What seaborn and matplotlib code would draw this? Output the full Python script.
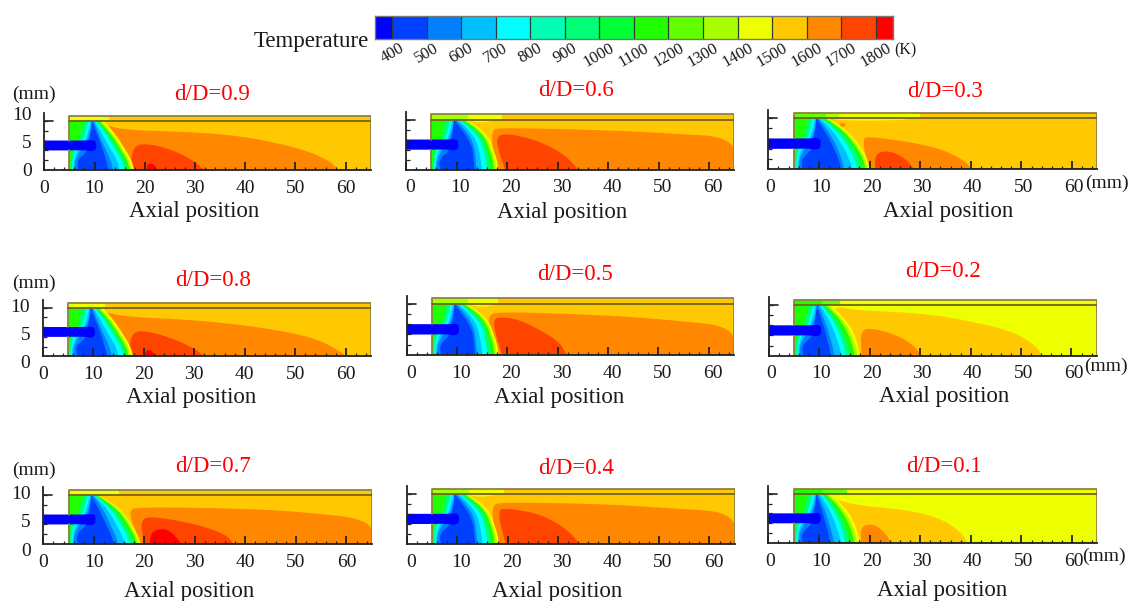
import numpy as np
import seaborn as sns
import matplotlib
matplotlib.use('Agg')
import matplotlib.pyplot as plt
from matplotlib.colors import ListedColormap
from matplotlib.transforms import ScaledTranslation

# Colour bands of the temperature scale (350-1850 K)
band_colors = ['#0000ff', '#0040ff', '#0080ff', '#00c0ff', '#00ffff', '#00ffb4', '#00ff74', '#00ff34',
               '#20ff00', '#62ff00', '#a8ff00', '#eeff00', '#ffc800', '#ff8800', '#ff4400', '#ff0000']
scale_cells = [0, 1, 1, 2, 2, 3, 3, 4, 4, 5, 5, 6, 6, 7, 7, 8, 8, 9, 9, 10, 10, 11, 11, 12, 12, 13, 13, 14, 14, 15]
scale_labels = ['400', '500', '600', '700', '800', '900', '1000', '1100', '1200', '1300', '1400', '1500', '1600',
                '1700', '1800']

x_ticks = [0, 10, 20, 30, 40, 50, 60]
y_labels = ['0', '5', '10']

# Isotherm heights (mm) shared by the cold front tables
front_y = [0, 1.7, 3.5, 5.2, 6.9, 8.6]
front_bands = [11, 10, 8, 6, 4, 3, 2, 1]
front_left = [
    [5, 5, 5, 5, 5, 5],
    [5, 5, 5, 5, 5, 5],
    [5, 5, 5, 5, 5, 5],
    [5.3, 5.3, 5.6, 7, 7.3, 8],
    [5.5, 5.6, 6, 7.8, 8.2, 8.8],
    [5.8, 5.9, 6.6, 8.2, 8.8, 9.2],
    [6.1, 6.1, 7.2, 8.6, 9.2, 9.5],
    [6.8, 6.5, 8.8, 8.9, 9.3, 9.5],
]

front_a = [[17.9, 17.4, 16.2, 15, 13.6, 11.9], [17.4, 16.9, 15.7, 14.5, 13.1, 11.4], [17, 16.5, 15.3, 14.1, 12.7, 11],
           [16.6, 16.1, 14.9, 13.7, 12.3, 10.6], [16, 15.5, 14.2, 13.1, 11.8, 10.3], [15, 14.5, 13.3, 12.2, 11.2, 10],
           [13.7, 13.2, 12.3, 11.4, 10.6, 9.8], [12.8, 12.3, 11.7, 11, 10.2, 9.6]]
front_b = [[19.2, 18.6, 17.4, 16.2, 14.2, 11], [18.9, 18.3, 17.1, 15.9, 13.9, 10.8], [18.5, 17.9, 16.7, 15.5, 13.5, 10.6],
           [18, 17.3, 16.1, 15, 13, 10.4], [17.2, 16.5, 15.3, 14.2, 12.5, 10.2], [16.2, 15.5, 14.4, 13.4, 11.9, 10],
           [14.8, 14.2, 13.2, 12.4, 11.2, 9.8], [14, 13.4, 12.4, 11.5, 10.5, 9.5]]
front_c = [[18.3, 18, 17.3, 16.6, 15, 12.2], [17.9, 17.6, 16.9, 16.2, 14.6, 11.8], [17.4, 17.2, 16.5, 15.8, 14.2, 11.4],
           [16.8, 16.6, 16, 15.4, 13.7, 11], [16, 15.8, 15.3, 14.7, 13, 10.6], [15, 14.8, 14.4, 13.8, 12.4, 10.2],
           [14, 13.8, 13.6, 13, 11.7, 9.8], [13.6, 13.4, 13.2, 12.4, 11, 9.5]]
front_d = [[20, 19.6, 18.5, 17, 15, 12], [19.6, 19.2, 18.1, 16.6, 14.6, 11.6], [19.2, 18.8, 17.6, 16.2, 14.2, 11.2],
           [18.6, 18.1, 17, 15.6, 13.7, 10.8], [17.6, 17.1, 16, 14.7, 13, 10.4], [16.6, 16, 15, 13.8, 12.3, 10.1],
           [15, 14.5, 13.7, 12.7, 11.4, 9.8], [14.4, 13.9, 13, 12, 10.8, 9.5]]
front_e = [[18, 17.7, 17, 16, 14.4, 12.3], [17.5, 17.2, 16.4, 15.4, 13.9, 11.8], [17, 16.6, 15.8, 14.8, 13.4, 11.3],
           [16.2, 15.7, 15, 14, 12.8, 10.9], [15.2, 14.8, 14.1, 13.2, 12.1, 10.5], [14.4, 13.9, 13.2, 12.4, 11.4, 10.1],
           [13, 12.6, 12, 11.4, 10.6, 9.8], [12.2, 11.9, 11.3, 10.8, 10.1, 9.5]]

# Jet outline (mm)
jet_x = [0, 5, 8, 9.3, 10.2, 10.4, 10.2, 8, 5, 0]
jet_y = [3.45, 3.45, 3.5, 3.3, 3.5, 4.3, 5.3, 5.2, 5.2, 5.2]

# Hot lobes: (band, outline x, outline y), outline runs from the axis back to the axis
lobes_09 = [(13, [10, 10, 11.8, 15.7, 31, 41, 51, 56.6, 58.6], [0, 8.1, 8.1, 7.05, 6.65, 5.76, 3.8, 1.76, 0]),
            (14, [17, 17.7, 21, 25.7, 30, 31.8], [0, 4.4, 4.6, 3.5, 1.5, 0]),
            (15, [20.4, 20.5, 21.7, 22.4], [0, 1.06, 1.2, 0])]
lobes_08 = [(13, [10, 10, 12, 16.6, 31.2, 44.4, 54.3, 59.5, 59.9], [0, 7.9, 7.9, 7, 6.4, 5, 3.2, 0.5, 0]),
            (14, [17, 17.6, 21.3, 26.5, 30.5, 31.9], [0, 4.5, 4.4, 2.9, 1.1, 0]),
            (15, [20.1, 20.5, 21.5, 22.3], [0, 1.1, 1.1, 0])]
lobes_07 = [(13, [19.4, 16.5, 19.8, 37.6, 50.8, 65, 65], [0, 6.1, 6.5, 6.3, 5.7, 4.35, 0]),
            (14, [20, 19.1, 22.4, 31, 36.3, 37.6], [0, 4.5, 4.8, 3.35, 1.6, 0]),
            (15, [21, 21.3, 22.8, 25, 27.4], [0, 1.9, 2.7, 2.5, 0])]
lobes_06 = [(13, [18, 16.6, 19.2, 39, 52.2, 65, 65], [0, 6.84, 7.24, 6.84, 6.26, 5.6, 0]),
            (14, [19.6, 17.9, 18.3, 20.6, 25.8, 30.5, 33.1, 34], [0, 4.5, 6, 6.15, 5.1, 3.1, 1.1, 0])]
lobes_05 = [(13, [18, 15.6, 19.2, 39.1, 52.4, 65, 65], [0, 6.74, 7.3, 6.74, 5.9, 4.8, 0]),
            (14, [18.9, 16.9, 18.9, 22.5, 27.2, 30.5, 31.8], [0, 5.9, 6.46, 5.9, 3.9, 2, 0])]
lobes_04 = [(13, [18, 16.6, 19.2, 39.1, 52.4, 65, 65], [0, 6.7, 7.2, 6.9, 6.15, 5.46, 0]),
            (14, [19.6, 17.9, 19.9, 25.9, 30.5, 33.2, 34.2], [0, 5.86, 6.15, 5.3, 3.3, 1.26, 0])]
lobes_03 = [(13, [19.8, 18.5, 20.1, 27.4, 34, 38.6, 40.3], [0, 5.2, 5.5, 4.66, 3.5, 1.57, 0]),
            (14, [21.1, 21.1, 22.8, 25.4, 27.7, 28.8], [0, 2.4, 3.15, 2.7, 1.3, 0]),
            (13, [14, 14.9, 15.4, 14.5, 14], [7.6, 7.9, 7.36, 7.1, 7.6]),
            (11, [12, 30, 24, 15, 12], [8.6, 8.6, 8.2, 8.2, 8.6])]
lobes_02 = [(12, [10, 12.3, 16.8, 30.7, 40.6, 48.5, 52.8, 54.2], [0, 8.6, 7.8, 7.26, 5.8, 4.1, 1.8, 0]),
            (13, [18.4, 18.1, 20.7, 25.4, 28.7, 30.2], [0, 4.4, 4.7, 3.5, 1.8, 0])]
lobes_01 = [(12, [10, 12.7, 16.8, 27.4, 34, 38, 39.4], [0, 7.95, 6.67, 5.8, 4.33, 2, 0]),
            (13, [18.3, 18.3, 19.5, 21.5, 23.4, 24.2], [0, 2.57, 3.33, 3, 1.4, 0])]
wedge_mid = (11, [12, 18.5, 14.5, 12], [8.6, 8.6, 8, 8.6])

# Wall strip segments above the wall line
strip_09 = ([5, 12.8, 65], [11, 12])
strip_08 = ([5, 12.3, 65], [11, 12])
strip_07 = ([5, 15, 65], [11, 12])
strip_06 = ([5, 12.2, 19.1, 65], [10, 11, 12])
strip_05 = ([5, 12.1, 18.1, 65], [10, 11, 12])
strip_04 = ([5, 12.3, 19.2, 65], [10, 11, 12])
strip_03 = ([5, 11.4, 14, 30, 65], [9, 10, 11, 12])
strip_02 = ([5, 10.5, 14, 65], [8, 9, 11])
strip_01 = ([5, 10.7, 15.6, 65], [8, 9, 11])

W, H = 1131, 601
# title, background band, lobes, fronts, strip, axes box in pixels (left, right, bottom, top), label shift in pixels
panels = [
    ('d/D=0.9', 12, lobes_09, front_a, strip_09, (44.3, 370.7, 170, 113.3), 0, 0, (212, 95), (194.5, 212)),
    ('d/D=0.6', 12, lobes_06 + [wedge_mid], front_c, strip_06, (406, 734.3, 169.7, 111.7), 4, 0, (575.7, 91), (562.5, 212.7)),
    ('d/D=0.3', 12, lobes_03, front_d, strip_03, (768.3, 1097.3, 169.3, 110), 2, 0, (944.5, 91.7), (947.7, 211.7)),
    ('d/D=0.8', 12, lobes_08, front_a, strip_08, (42.7, 371, 356.3, 300), 0, 5, (213, 280), (190.8, 397.3)),
    ('d/D=0.5', 12, lobes_05 + [wedge_mid], front_c, strip_05, (406.7, 734, 355, 295.7), 4, 0, (575.3, 275), (559, 397.7)),
    ('d/D=0.2', 11, lobes_02, front_e, strip_02, (769, 1096.7, 355.7, 297.3), 2, 0, (942.8, 271.7), (943.8, 396.7)),
    ('d/D=0.7', 12, lobes_07, front_b, strip_07, (43.3, 371.7, 544, 487.3), 0, 5, (212.8, 467), (189, 591.7)),
    ('d/D=0.4', 12, lobes_04 + [wedge_mid], front_c, strip_04, (406.7, 734.7, 544, 486), 4, 0, (575.7, 468), (556.7, 591.7)),
    ('d/D=0.1', 11, lobes_01, front_e, strip_01, (768.3, 1097.3, 543, 486), 2, 0, (944, 466.7), (941.8, 590.7)),
]
mm_left = [(34, 94), (34, 283.3), (34, 470.7)]
mm_right = [(1106.7, 183.3), (1105.5, 366.7), (1104, 556.7)]

AXIS = '#222222'
WALL = '#6f6420'
OUTLINE = '#8d8240'

sns.set_theme(style='white')
plt.rcParams['font.family'] = ['Liberation Serif', 'DejaVu Serif']


def add_axes(fig, left, right, bottom, top):
    return fig.add_axes([left / W, 1 - bottom / H, (right - left) / W, (bottom - top) / H])


def fig_text(fig, pos, s, **kw):
    fig.text(pos[0] / W, 1 - pos[1] / H, s, ha='center', va='center', **kw)


def smooth(xs, ys, n=3):
    # corner cutting, end points stay where they are
    pts = np.column_stack([xs, ys]).astype(float)
    for _ in range(n):
        q = pts[:-1] * 0.75 + pts[1:] * 0.25
        r = pts[:-1] * 0.25 + pts[1:] * 0.75
        mid = np.empty((q.shape[0] * 2, 2))
        mid[0::2], mid[1::2] = q, r
        pts = np.vstack([pts[0], mid, pts[-1]])
    return pts[:, 0], pts[:, 1]


def draw_panel(fig, title, bg, lobes, fronts, strip, box, dx, dy, title_pos, label_pos):
    ax = add_axes(fig, *box)
    ax.set_facecolor('none')

    ax.fill([5, 65, 65, 5], [0, 0, 8.6, 8.6], color=band_colors[bg], lw=0)
    for band, xs, ys in lobes:
        sx, sy = smooth(xs, ys, 3)
        ax.fill(np.clip(sx, 5, 65), np.clip(sy, 0, 8.6), color=band_colors[band], lw=0)

    # cold front, warmest isotherm first
    for band, left, right in zip(front_bands, front_left, fronts):
        rx, ry = smooth(right, front_y, 2)
        lx, ly = smooth(left, front_y, 2)
        ax.fill(np.r_[lx, rx[::-1]], np.r_[ly, ry[::-1]], color=band_colors[band], lw=0)

    jx, jy = smooth(jet_x, jet_y, 2)
    ax.fill(jx, jy, color=band_colors[0], lw=0)

    edges, bands = strip
    for a, b, band in zip(edges[:-1], edges[1:], bands):
        ax.fill([a, b, b, a], [8.6, 8.6, 9.55, 9.55], color=band_colors[band], lw=0)

    sns.lineplot(x=[5, 5, 65, 65, 5], y=[5.2, 9.55, 9.55, 0, 0], ax=ax, color=OUTLINE, lw=1.3, sort=False, estimator=None)
    sns.lineplot(x=[5, 5], y=[0, 3.45], ax=ax, color=OUTLINE, lw=1.3, sort=False, estimator=None)
    sns.lineplot(x=[5, 65], y=[8.6, 8.6], ax=ax, color=WALL, lw=1.3, sort=False, estimator=None)
    sns.lineplot(x=[0, 1.8], y=[8.65, 8.65], ax=ax, color=AXIS, lw=1.2, sort=False, estimator=None)

    ax.set_xlim(0, 65)
    ax.set_ylim(0, 10)
    ax.set_xlabel('')
    ax.set_ylabel('')
    for s in ['top', 'right']:
        ax.spines[s].set_visible(False)
    for s in ['left', 'bottom']:
        ax.spines[s].set_color(AXIS)
        ax.spines[s].set_linewidth(1.3)
        ax.spines[s].set_zorder(6)

    ax.set_xticks(x_ticks, [str(t) for t in x_ticks])
    ax.set_xticks(np.arange(2, 65, 2), minor=True)
    ax.set_yticks(np.arange(1, 6) * 1.73, minor=True)
    ax.tick_params(axis='x', which='major', direction='in', length=6, width=1.3, color=AXIS, labelsize=14,
                   pad=7, labelcolor='#1a1a1a', bottom=True, zorder=6)
    ax.tick_params(axis='x', which='minor', direction='in', length=2.5, width=0.9, color=AXIS, bottom=True, zorder=6)
    ax.tick_params(axis='y', which='minor', direction='in', length=3, width=0.9, color=AXIS, left=True, zorder=6)
    ax.set_axisbelow(False)

    if box[0] < 100:
        ax.set_yticks([0, 5, 10], y_labels)
        ax.tick_params(axis='y', which='major', length=0, labelsize=14, pad=9, labelcolor='#1a1a1a')
    else:
        ax.set_yticks([])
        ax.set_yticks(np.arange(1, 6) * 1.73, minor=True)

    for tick in ax.xaxis.get_major_ticks():
        tick.label1.set_transform(tick.label1.get_transform() + ScaledTranslation(dx / 100, 0, fig.dpi_scale_trans))
    for tick in ax.yaxis.get_major_ticks():
        tick.label1.set_transform(tick.label1.get_transform() + ScaledTranslation(0, -dy / 100, fig.dpi_scale_trans))

    fig_text(fig, title_pos, title, color='#ff0000', fontsize=16.5)
    fig_text(fig, label_pos, 'Axial position', color='#1a1a1a', fontsize=16.5)


fig = plt.figure(figsize=(W / 100, H / 100), dpi=100, facecolor='white')

# temperature scale on top
ax_cb = add_axes(fig, 374.7, 893, 39, 16)
sns.heatmap(np.array([scale_cells]), cmap=ListedColormap(band_colors), vmin=-0.5, vmax=15.5, cbar=False, ax=ax_cb,
            xticklabels=False, yticklabels=False)
ax_cb.vlines(np.arange(1, 30, 2), 0, 1, color='#2f3a3a', lw=0.9)
ax_cb.set_xticks(np.arange(1, 30, 2), scale_labels, rotation=30, ha='center', fontsize=12, color='#1a1a1a')
ax_cb.tick_params(axis='x', length=0, pad=1, bottom=True)
for s in ax_cb.spines.values():
    s.set_visible(True)
    s.set_color('#777777')
    s.set_linewidth(1)
fig_text(fig, (311, 41), 'Temperature', color='#1a1a1a', fontsize=16.5)
fig_text(fig, (905, 50), '(K)', color='#1a1a1a', fontsize=11.5)

for title, bg, lobes, fronts, strip, box, dx, dy, title_pos, label_pos in panels:
    draw_panel(fig, title, bg, lobes, fronts, strip, box, dx, dy, title_pos, label_pos)

for pos in mm_left + mm_right:
    fig_text(fig, pos, '(mm)', color='#1a1a1a', fontsize=14)

fig.savefig('out.png', dpi=100, facecolor='white')
